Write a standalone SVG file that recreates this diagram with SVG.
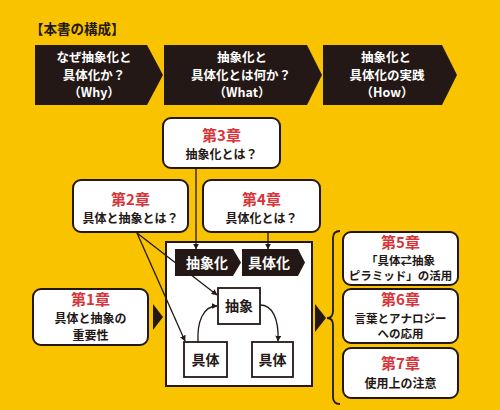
<svg xmlns="http://www.w3.org/2000/svg" width="500" height="410" viewBox="0 0 500 410">
<defs>
<style>
text{font-family:"Noto Sans CJK JP","Noto Sans CJK SC",sans-serif;font-weight:bold;text-anchor:middle}
.wt{fill:#fff;font-size:12.5px}
.red{fill:#D7353A;font-size:15px}
.sub{fill:#231815;font-size:12px}
.sm{font-size:11.5px}
.box{fill:#fff;stroke:#231815;stroke-width:2}
.chev{fill:#231815}
.sq{fill:#fff;stroke:#231815;stroke-width:1.8}
.sqt{fill:#231815;font-size:14px}
.ln{fill:none;stroke:#231815;stroke-width:1.3}
</style>
<marker id="ah" viewBox="0 0 10 10" refX="9" refY="5" markerWidth="6" markerHeight="6" orient="auto" markerUnits="userSpaceOnUse">
<path d="M0,0 L10,5 L0,10 Z" fill="#231815"/>
</marker>
</defs>
<rect width="500" height="410" fill="#F9C300"/>
<text x="30" y="34" style="text-anchor:start;font-size:13.5px;fill:#231815">【本書の構成】</text>

<g id="why">
<path class="chev" d="M35,45 H147 L163,75 L147,105 H35 Z"/>
<text class="wt"><tspan x="94" y="62">なぜ抽象化と</tspan><tspan x="94" y="79.5">具体化か？</tspan><tspan x="94" y="97">（Why）</tspan></text>
</g>
<g id="what">
<path class="chev" d="M164,45 H307 L322,75 L307,105 H164 Z"/>
<text class="wt"><tspan x="242" y="62">抽象化と</tspan><tspan x="241" y="79.5">具体化とは何か？</tspan><tspan x="242" y="97">（What）</tspan></text>
</g>
<g id="how">
<path class="chev" d="M323,45 H442 L457,75 L442,105 H323 Z"/>
<text class="wt"><tspan x="386" y="62">抽象化と</tspan><tspan x="387" y="79.5">具体化の実践</tspan><tspan x="387" y="97">（How）</tspan></text>
</g>

<g id="ch3">
<rect class="box" x="163" y="118" width="117" height="50" rx="8"/>
<text class="sub"><tspan class="red" x="221.5" y="141">第3章</tspan><tspan x="221.5" y="159">抽象化とは？</tspan></text>
</g>
<g id="ch2">
<rect class="box" x="73" y="180" width="115" height="52" rx="8"/>
<text class="sub"><tspan class="red" x="130.5" y="205">第2章</tspan><tspan x="130.5" y="223">具体と抽象とは？</tspan></text>
</g>
<g id="ch4">
<rect class="box" x="203" y="180" width="117" height="52" rx="8"/>
<text class="sub"><tspan class="red" x="261.5" y="205">第4章</tspan><tspan x="261.5" y="223">具体化とは？</tspan></text>
</g>
<g id="ch1">
<rect class="box" x="33" y="289" width="115" height="56" rx="8"/>
<text class="sub"><tspan class="red" x="90.5" y="305">第1章</tspan><tspan x="90.5" y="323">具体と抽象の</tspan><tspan x="90.5" y="339.5">重要性</tspan></text>
</g>

<g id="main">
<rect x="166" y="242" width="146" height="144" fill="#fff" stroke="#231815" stroke-width="2"/>
</g>

<g id="connectors">
<line class="ln" x1="196" y1="168" x2="196" y2="249" marker-end="url(#ah)"/>
<line class="ln" x1="268" y1="232" x2="268" y2="249" marker-end="url(#ah)"/>
<line class="ln" x1="137" y1="233" x2="217" y2="295" marker-end="url(#ah)"/>
<line class="ln" x1="137" y1="233" x2="185" y2="341" marker-end="url(#ah)"/>
<path class="ln" d="M198,342 C197,322 203,306 217,306" marker-end="url(#ah)"/>
<path class="ln" d="M260,305 C272,305 279,318 278,341" marker-end="url(#ah)"/>
<path fill="#231815" d="M153,304 L163,317 L153,330 Z"/>
<path fill="#231815" d="M315,304 L326,318 L315,332 Z"/>
<path fill="none" stroke="#231815" stroke-width="1.8" d="M340,231 Q333,231 333,238 V311 Q333,318 327,318 Q333,318 333,325 V397 Q333,404 340,404"/>
</g>

<g id="abstraction">
<path class="chev" d="M175,249 H233 L241,262.5 L233,276 H175 Z"/>
<text class="wt" x="207" y="268" style="font-size:14px">抽象化</text>
</g>
<g id="concretization">
<path class="chev" d="M242,249 H298 L305,262.5 L298,276 H242 Z"/>
<text class="wt" x="269" y="268" style="font-size:14px">具体化</text>
</g>
<g id="abstract">
<rect class="sq" x="218" y="288" width="42" height="36"/>
<text class="sqt" x="239" y="311">抽象</text>
</g>
<g id="concrete1">
<rect class="sq" x="184" y="342" width="43" height="35"/>
<text class="sqt" x="205.5" y="365">具体</text>
</g>
<g id="concrete2">
<rect class="sq" x="252" y="342" width="41" height="35"/>
<text class="sqt" x="272.5" y="365">具体</text>
</g>

<g id="ch5">
<rect class="box" x="343" y="232" width="115" height="53" rx="8"/>
<text class="sub sm"><tspan class="red" x="400.5" y="248">第5章</tspan><tspan x="400.5" y="265">「具体⇄抽象</tspan><tspan x="400.5" y="279.5">ピラミッド」の活用</tspan></text>
</g>
<g id="ch6">
<rect class="box" x="343" y="289" width="115" height="54" rx="8"/>
<text class="sub sm"><tspan class="red" x="400.5" y="305">第6章</tspan><tspan x="400.5" y="322.5">言葉とアナロジー</tspan><tspan x="400.5" y="337.5">への応用</tspan></text>
</g>
<g id="ch7">
<rect class="box" x="343" y="348" width="115" height="50" rx="8"/>
<text class="sub"><tspan class="red" x="400.5" y="369">第7章</tspan><tspan x="400.5" y="388">使用上の注意</tspan></text>
</g>
</svg>
